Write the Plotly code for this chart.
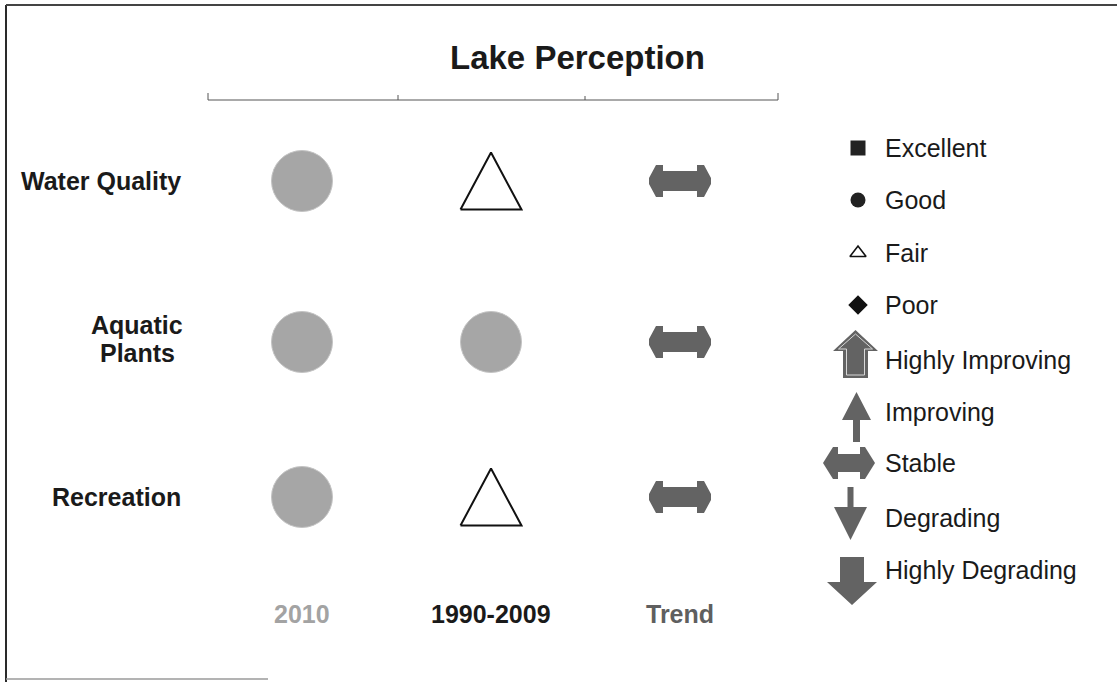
import plotly.graph_objects as go

# ---------------- data ----------------
aspects = ["Water Quality", "Aquatic Plants", "Recreation"]
periods = ["2010", "1990-2009", "Trend"]
rating_2010 = ["Good", "Good", "Good"]
rating_1990_2009 = ["Fair", "Good", "Fair"]
trend = ["Stable", "Stable", "Stable"]
status_labels = ["Excellent", "Good", "Fair", "Poor"]
trend_labels = ["Highly Improving", "Improving", "Stable", "Degrading", "Highly Degrading"]
title = "Lake Perception"

# ---------------- layout constants (pixel space) ----------------
W, H = 1117, 682
col_x = [302, 491, 680]
row_y = [181, 342, 497]
label_y = 614
status_y = [148, 200, 253, 305]
trend_y = [360, 412, 463, 518, 570]
legend_icon_x = 858
legend_text_x = 883
FONT = "Liberation Sans, Arial, sans-serif"
GOOD_GRAY = "#a6a6a6"
ARROW_GRAY = "#636363"
period_colors = ["#a3a3a3", "#1a1a1a", "#5f5f5f"]

fig = go.Figure()


def poly(cx, cy, pts, color, line_color=None, lw=0):
    xs = [cx + p[0] for p in pts] + [cx + pts[0][0]]
    ys = [cy + p[1] for p in pts] + [cy + pts[0][1]]
    fig.add_trace(go.Scatter(x=xs, y=ys, mode="lines", fill="toself", fillcolor=color,
                             line=dict(color=line_color or color, width=lw),
                             hoverinfo="skip", showlegend=False))


# glyph geometries (offsets in px, y downward)
STABLE_BIG = [(-31, -3), (-24, -16), (-17, -16), (-17, -10), (17, -10), (17, -16), (24, -16),
              (31, -3), (31, 3), (24, 16), (17, 16), (17, 10), (-17, 10), (-17, 16), (-24, 16), (-31, 3)]
TRI_BIG = [(-30.5, 28.5), (30.5, 28.5), (0, -28.5)]


def draw_rating(cx, cy, rating):
    if rating == "Good":
        fig.add_trace(go.Scatter(x=[cx], y=[cy], mode="markers",
                                 marker=dict(symbol="circle", size=61, color=GOOD_GRAY,
                                             line=dict(color="#c4c4c4", width=1)),
                                 hoverinfo="skip", showlegend=False))
    elif rating == "Fair":
        xs = [cx + p[0] for p in TRI_BIG] + [cx + TRI_BIG[0][0]]
        ys = [cy + p[1] for p in TRI_BIG] + [cy + TRI_BIG[0][1]]
        fig.add_trace(go.Scatter(x=xs, y=ys, mode="lines", line=dict(color="#111111", width=2),
                                 hoverinfo="skip", showlegend=False))
    elif rating == "Stable":
        poly(cx, cy, STABLE_BIG, ARROW_GRAY)


for i, a in enumerate(aspects):
    draw_rating(col_x[0], row_y[i], rating_2010[i])
    draw_rating(col_x[1], row_y[i], rating_1990_2009[i])
    draw_rating(col_x[2], row_y[i], trend[i])

# ---------------- legend: status icons ----------------
status_symbols = {"Excellent": ("square", 15, "#222222"),
                  "Good": ("circle", 15, "#222222"),
                  "Fair": ("triangle-up-open", 14, "#111111"),
                  "Poor": ("diamond", 15, "#111111")}
for lab, yy in zip(status_labels, status_y):
    sym, sz, col = status_symbols[lab]
    fig.add_trace(go.Scatter(x=[legend_icon_x], y=[yy], mode="markers",
                             marker=dict(symbol=sym, size=sz, color=col,
                                         line=dict(color=col, width=1.6 if "open" in sym else 0)),
                             hoverinfo="skip", showlegend=False))

# ---------------- legend: trend icons ----------------
trend_glyphs = {
    "Highly Improving": (855.5, [(0, -30), (22.5, -9), (12.5, -9), (12.5, 18), (-12.5, 18), (-12.5, -9), (-22.5, -9)]),
    "Improving": (856.5, [(0, -20), (14.5, 8), (3.5, 8), (3.5, 30), (-3.5, 30), (-3.5, 8), (-14.5, 8)]),
    "Stable": (849, [(-26, 0), (-16, -16), (-11, -16), (-11, -9), (11, -9), (11, -16), (16, -16),
                     (26, 0), (16, 16), (11, 16), (11, 9), (-11, 9), (-11, 16), (-16, 16)]),
    "Degrading": (850.5, [(-3, -31), (3, -31), (3, -11), (16.5, -11), (0, 22), (-16.5, -11), (-3, -11)]),
    "Highly Degrading": (852, [(-12, -13), (12, -13), (12, 12), (25, 12), (0, 35), (-25, 12), (-12, 12)]),
}
for lab, yy in zip(trend_labels, trend_y):
    cx, pts = trend_glyphs[lab]
    poly(cx, yy, pts, ARROW_GRAY)
    if lab == "Highly Improving":
        inner = [(0, -26), (17, -11), (9, -11), (9, 15), (-9, 15), (-9, -11), (-17, -11), (0, -26)]
        fig.add_trace(go.Scatter(x=[cx + p[0] for p in inner], y=[yy + p[1] for p in inner],
                                 mode="lines", line=dict(color="#d8d8d8", width=1),
                                 hoverinfo="skip", showlegend=False))

# ---------------- annotations ----------------
ann = []
ann.append(dict(x=577, y=57, text=f"<b>{title}</b>", showarrow=False,
                font=dict(family=FONT, size=33, color="#1a1a1a"), xanchor="center", yanchor="middle"))
# row labels
for a, yy in zip(aspects, row_y):
    if a == "Aquatic Plants":
        ann.append(dict(x=137, y=325, text="<b>Aquatic</b>", showarrow=False,
                        font=dict(family=FONT, size=25, color="#1a1a1a"), xanchor="center", yanchor="middle"))
        ann.append(dict(x=137, y=353, text="<b>Plants</b>", showarrow=False,
                        font=dict(family=FONT, size=25, color="#1a1a1a"), xanchor="center", yanchor="middle"))
    else:
        ann.append(dict(x=183, y=yy, text=f"<b>{a}</b>", showarrow=False,
                        font=dict(family=FONT, size=25, color="#1a1a1a"), xanchor="right", yanchor="middle"))
# column labels
for p, cx, col in zip(periods, col_x, period_colors):
    ann.append(dict(x=cx, y=label_y, text=f"<b>{p}</b>", showarrow=False,
                    font=dict(family=FONT, size=25, color=col), xanchor="center", yanchor="middle"))
# legend texts
for lab, yy in zip(status_labels + trend_labels, status_y + trend_y):
    ann.append(dict(x=legend_text_x, y=yy, text=lab, showarrow=False,
                    font=dict(family=FONT, size=25, color="#1a1a1a"), xanchor="left", yanchor="middle"))

# ---------------- shapes: bracket + frame ----------------
shapes = []
bx0, bx1, by = 208, 778, 100
shapes.append(dict(type="line", x0=bx0, x1=bx1, y0=by, y1=by, line=dict(color="#555555", width=1)))
for tx, th in [(bx0, 7), (bx1, 7), (398, 5), (585, 4)]:
    shapes.append(dict(type="line", x0=tx, x1=tx, y0=by, y1=by - th, line=dict(color="#555555", width=1)))
shapes.append(dict(type="line", x0=6, x1=6, y0=5, y1=H, line=dict(color="#2a2a2a", width=2)))
shapes.append(dict(type="line", x0=6, x1=W, y0=5, y1=5, line=dict(color="#444444", width=2)))
shapes.append(dict(type="line", x0=6, x1=268, y0=679, y1=679, line=dict(color="#9a9a9a", width=1.5)))

fig.update_layout(
    width=W, height=H,
    margin=dict(l=0, r=0, t=0, b=0),
    paper_bgcolor="white", plot_bgcolor="white",
    xaxis=dict(range=[0, W], visible=False, fixedrange=True),
    yaxis=dict(range=[H, 0], visible=False, fixedrange=True),
    annotations=ann, shapes=shapes, showlegend=False,
)

fig.write_html("out.html", config={"displayModeBar": False},
               post_script="document.body.style.margin='0px';document.body.style.overflow='hidden';")
